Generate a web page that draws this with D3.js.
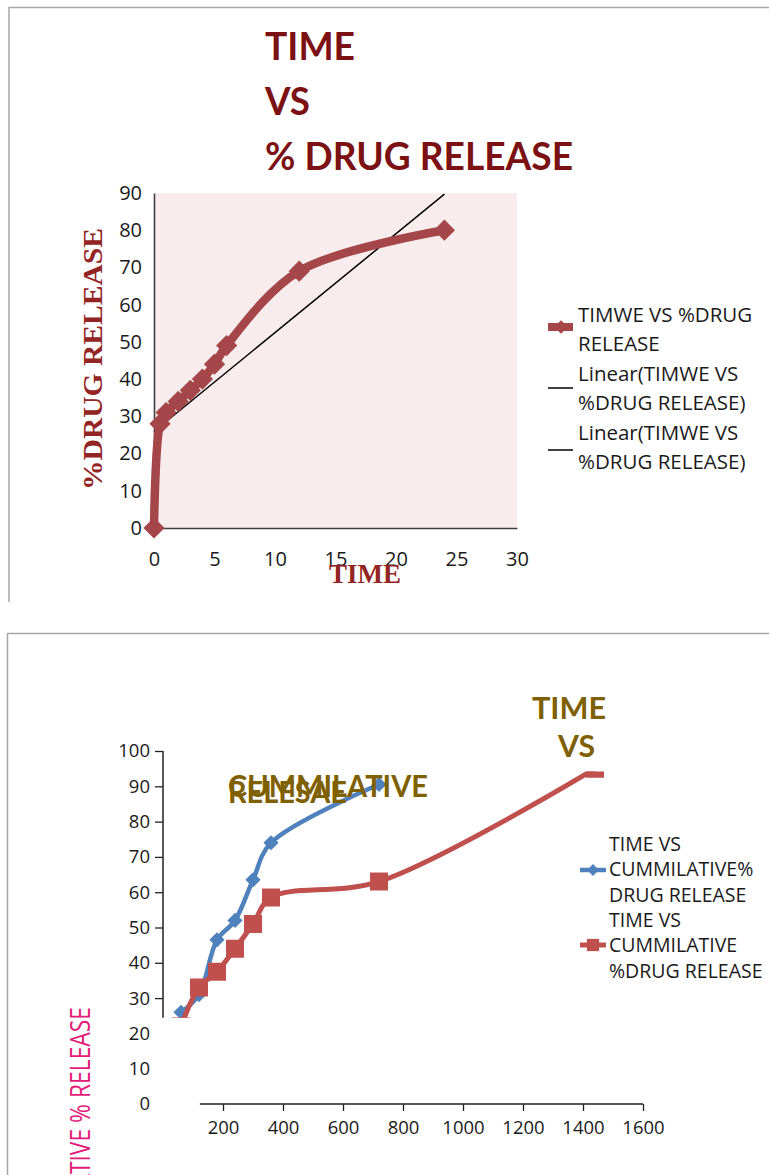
<!DOCTYPE html>
<html>
<head>
<meta charset="utf-8">
<script src="https://cdn.jsdelivr.net/npm/d3@7"></script>
<style>
  body { margin: 0; background: #fff; }
  svg { display: block; }
</style>
</head>
<body>
<div id="chart"></div>
<script>
// top chart: time (h) vs % drug release
var hours = [0, 0.5, 1, 2, 3, 4, 5, 6, 12, 24];
var release = [0, 28, 31, 34, 37, 40, 44, 49, 69, 80];
var topTicksX = [0, 5, 10, 15, 20, 25, 30];
var topTicksY = [0, 10, 20, 30, 40, 50, 60, 70, 80, 90];
var topTitle = ['TIME', 'VS', '% DRUG RELEASE'];
var topLegend = ['TIMWE VS %DRUG', 'RELEASE', 'Linear(TIMWE VS', '%DRUG RELEASE)', 'Linear(TIMWE VS', '%DRUG RELEASE)'];

// bottom chart: time (min) vs cumulative release
var minutesA = [60, 120, 180, 240, 300, 360, 720];
var cumA = [26, 31, 46.5, 52, 63.5, 74, 90.5];
var minutesB = [60, 120, 180, 240, 300, 360, 720, 1440];
var cumB = [22, 33, 37.5, 44, 51, 58.5, 63, 95];
var botTicksX = [200, 400, 600, 800, 1000, 1200, 1400, 1600];
var botTicksY = [0, 10, 20, 30, 40, 50, 60, 70, 80, 90, 100];
var botLegend = ['TIME VS', 'CUMMILATIVE%', 'DRUG RELEASE', 'TIME VS', 'CUMMILATIVE', '%DRUG RELEASE'];

var sans = '"Open Sans", sans-serif';
var svg = d3.select('#chart').append('svg')
    .attr('width', 769)
    .attr('height', 1175)
    .attr('font-family', sans);

// frames (open to the right / bottom like the cropped screenshot)
svg.append('path').attr('d', 'M9,602V7.5H769').attr('fill', 'none').attr('stroke', '#a6a6a6').attr('stroke-width', 1.5);
svg.append('path').attr('d', 'M7.5,1175V633.5H769').attr('fill', 'none').attr('stroke', '#a6a6a6').attr('stroke-width', 1.5);

// ---------- top chart ----------
var x1 = d3.scaleLinear().domain([0, 30]).range([154, 517]);
var y1 = d3.scaleLinear().domain([0, 90]).range([528, 193]);

var topG = svg.append('g').attr('class', 'top-chart');

topG.append('rect')
    .attr('x', x1(0)).attr('y', y1(90))
    .attr('width', x1(30) - x1(0)).attr('height', y1(0) - y1(90))
    .attr('fill', '#f8ecec');

var yAxis1 = topG.append('g')
    .attr('transform', 'translate(' + x1(0) + ',0)')
    .call(d3.axisLeft(y1).tickValues(topTicksY).tickSize(0).tickPadding(12).tickSizeOuter(0));
var xAxis1 = topG.append('g')
    .attr('transform', 'translate(0,' + y1(0) + ')')
    .call(d3.axisBottom(x1).tickValues(topTicksX).tickSize(0).tickPadding(24).tickSizeOuter(0));
[yAxis1, xAxis1].forEach(function(a) {
  a.attr('font-family', sans).attr('font-size', 20);
  a.select('.domain').attr('stroke', '#404040').attr('stroke-width', 1.6);
  a.selectAll('text').attr('fill', '#1a1a1a');
});

// linear trendline (least squares on the series)
var pts1 = hours.map(function(h, i) { return [h, release[i]]; });
var mx = d3.mean(hours), my = d3.mean(release);
var slope = d3.sum(pts1, function(p) { return (p[0] - mx) * (p[1] - my); }) /
            d3.sum(hours, function(h) { return (h - mx) * (h - mx); });
var icpt = my - slope * mx;
var xEnd = d3.max(hours);
topG.append('line')
    .attr('x1', x1(0)).attr('y1', y1(icpt))
    .attr('x2', x1(xEnd)).attr('y2', y1(icpt + slope * xEnd))
    .attr('stroke', '#000').attr('stroke-width', 1.5);

var redDark = '#a5464a';
topG.append('path')
    .datum(pts1)
    .attr('fill', 'none')
    .attr('stroke', redDark)
    .attr('stroke-width', 8.5)
    .attr('stroke-linejoin', 'round')
    .attr('d', d3.line().x(function(d) { return x1(d[0]); }).y(function(d) { return y1(d[1]); }).curve(d3.curveCatmullRom));

topG.selectAll('.dia')
    .data(pts1)
  .enter().append('path')
    .attr('class', 'dia')
    .attr('transform', function(d) { return 'translate(' + x1(d[0]) + ',' + y1(d[1]) + ') rotate(45)'; })
    .attr('d', d3.symbol(d3.symbolSquare, 225))
    .attr('fill', redDark);

// titles
var titleLen = [90, 45, 308];
topG.selectAll('.ttl')
    .data(topTitle)
  .enter().append('text')
    .attr('x', 265)
    .attr('y', function(d, i) { return 60 + i * 55; })
    .attr('font-family', 'Lato, sans-serif')
    .attr('font-weight', 'bold')
    .attr('font-size', 39)
    .attr('textLength', function(d, i) { return titleLen[i]; })
    .attr('lengthAdjust', 'spacingAndGlyphs')
    .attr('fill', '#7b1113')
    .text(function(d) { return d; });

var serif = '"Liberation Serif", "Times New Roman", serif';
topG.append('text')
    .attr('transform', 'translate(102,359) rotate(-90)')
    .attr('text-anchor', 'middle')
    .attr('font-family', serif)
    .attr('font-weight', 'bold')
    .attr('font-size', 27)
    .attr('textLength', 262)
    .attr('lengthAdjust', 'spacingAndGlyphs')
    .attr('fill', '#922424')
    .text('%DRUG RELEASE');

topG.append('text')
    .attr('x', 365).attr('y', 583)
    .attr('text-anchor', 'middle')
    .attr('font-family', serif)
    .attr('font-weight', 'bold')
    .attr('font-size', 27)
    .attr('fill', '#922424')
    .text('TIME');

// legend
var lg1 = topG.append('g');
lg1.selectAll('text')
    .data(topLegend)
  .enter().append('text')
    .attr('x', 578)
    .attr('y', function(d, i) { return 322 + i * 29.4; })
    .attr('font-size', 20.5)
    .attr('fill', '#1a1a1a')
    .text(function(d) { return d; });
lg1.append('line').attr('x1', 548).attr('x2', 573).attr('y1', 327).attr('y2', 327).attr('stroke', redDark).attr('stroke-width', 8);
lg1.append('path').attr('transform', 'translate(561,327) rotate(45)').attr('d', d3.symbol(d3.symbolSquare, 90)).attr('fill', redDark);
[388, 450].forEach(function(yy) {
  lg1.append('line').attr('x1', 548).attr('x2', 573).attr('y1', yy).attr('y2', yy).attr('stroke', '#000').attr('stroke-width', 1.5);
});

// ---------- bottom chart ----------
var x2 = d3.scaleLinear().domain([0, 1600]).range([163, 643]);
var y2 = d3.scaleLinear().domain([0, 100]).range([1104, 751]);
var yAxisFrom = 24.4, xAxisFrom = 123, clipTop = 94.2;

var botG = svg.append('g').attr('class', 'bottom-chart');

var yAxis2 = botG.append('g')
    .attr('transform', 'translate(' + x2(0) + ',0)')
    .call(d3.axisLeft(y2).tickValues(botTicksY).tickSize(8).tickPadding(5));
yAxis2.select('.domain').remove();
yAxis2.selectAll('.tick line')
    .attr('stroke', '#222').attr('stroke-width', 1.3)
    .attr('display', function(d) { return d < 30 ? 'none' : null; });
botG.append('line')
    .attr('x1', x2(0)).attr('x2', x2(0))
    .attr('y1', y2(yAxisFrom)).attr('y2', y2(100))
    .attr('stroke', '#222').attr('stroke-width', 1.5);

var xAxis2 = botG.append('g')
    .attr('transform', 'translate(0,' + y2(0) + ')')
    .call(d3.axisBottom(x2).tickValues(botTicksX).tickFormat(d3.format('d')).tickSize(7).tickPadding(10));
xAxis2.select('.domain').remove();
xAxis2.selectAll('.tick line').attr('stroke', '#222').attr('stroke-width', 1.3);
botG.append('line')
    .attr('x1', x2(xAxisFrom)).attr('x2', x2(1600))
    .attr('y1', y2(0)).attr('y2', y2(0))
    .attr('stroke', '#222').attr('stroke-width', 1.5);

[yAxis2, xAxis2].forEach(function(a) {
  a.attr('font-family', sans).attr('font-size', 18.5);
  a.selectAll('text').attr('fill', '#1a1a1a');
});

svg.append('defs').append('clipPath').attr('id', 'plot2')
  .append('rect')
    .attr('x', x2(0)).attr('y', y2(clipTop))
    .attr('width', 500).attr('height', y2(yAxisFrom) - y2(clipTop));

var plot2 = botG.append('g').attr('clip-path', 'url(#plot2)');
var line2 = d3.line().x(function(d) { return x2(d[0]); }).y(function(d) { return y2(d[1]); }).curve(d3.curveCatmullRom);

var blue = '#4f81bd', red = '#c0504d';
var ptsA = minutesA.map(function(m, i) { return [m, cumA[i]]; });
var ptsB = minutesB.map(function(m, i) { return [m, cumB[i]]; });

plot2.append('path').datum(ptsA).attr('fill', 'none').attr('stroke', blue).attr('stroke-width', 4.5).attr('d', line2);
plot2.selectAll('.da').data(ptsA).enter().append('path')
    .attr('class', 'da')
    .attr('transform', function(d) { return 'translate(' + x2(d[0]) + ',' + y2(d[1]) + ') rotate(45)'; })
    .attr('d', d3.symbol(d3.symbolSquare, 115))
    .attr('fill', blue);

plot2.append('path').datum(ptsB).attr('fill', 'none').attr('stroke', red).attr('stroke-width', 5).attr('d', line2);
plot2.selectAll('.sq').data(ptsB).enter().append('path')
    .attr('class', 'sq')
    .attr('transform', function(d) { return 'translate(' + x2(d[0]) + ',' + y2(d[1]) + ')'; })
    .attr('d', d3.symbol(d3.symbolSquare, 324))
    .attr('fill', red);

// overlapping title pieces
var olive = '#7f6000';
function title2(txt, x, y, len) {
  botG.append('text')
      .attr('x', x).attr('y', y)
      .attr('font-family', 'Lato, sans-serif')
      .attr('font-weight', 'bold')
      .attr('font-size', 30)
      .attr('textLength', len)
      .attr('lengthAdjust', 'spacingAndGlyphs')
      .attr('fill', olive)
      .text(txt);
}
title2('TIME', 532, 719, 74);
title2('VS', 558, 757, 37);
title2('CUMMILATIVE', 228, 797, 200);
title2('RELESAE', 228, 803, 119);

// y label (cut off at the bottom)
botG.append('text')
    .attr('transform', 'translate(90,1007) rotate(-90)')
    .attr('text-anchor', 'end')
    .attr('font-size', 27)
    .attr('textLength', 272)
    .attr('lengthAdjust', 'spacingAndGlyphs')
    .attr('fill', '#e31c79')
    .text('CUMMILATIVE % RELEASE');

// legend
var lg2 = botG.append('g');
lg2.selectAll('text')
    .data(botLegend)
  .enter().append('text')
    .attr('x', 609)
    .attr('y', function(d, i) { return 851 + i * 25.3; })
    .attr('font-size', 19.5)
    .attr('fill', '#1a1a1a')
    .text(function(d) { return d; });
lg2.append('line').attr('x1', 580).attr('x2', 606).attr('y1', 870).attr('y2', 870).attr('stroke', blue).attr('stroke-width', 4.5);
lg2.append('path').attr('transform', 'translate(593,870) rotate(45)').attr('d', d3.symbol(d3.symbolSquare, 70)).attr('fill', blue);
lg2.append('line').attr('x1', 580).attr('x2', 606).attr('y1', 945).attr('y2', 945).attr('stroke', red).attr('stroke-width', 5);
lg2.append('path').attr('transform', 'translate(593,945)').attr('d', d3.symbol(d3.symbolSquare, 150)).attr('fill', red);
</script>
</body>
</html>
